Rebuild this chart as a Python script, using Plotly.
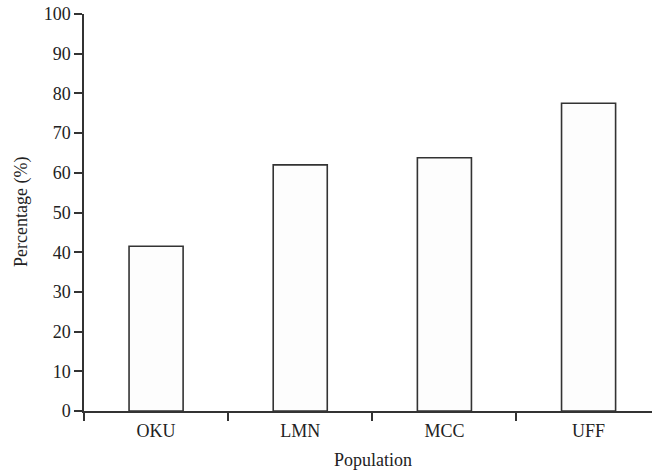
import plotly.graph_objects as go

categories = ["OKU", "LMN", "MCC", "UFF"]
values = [41.5, 62.0, 63.8, 77.5]
y_ticks = list(range(0, 101, 10))

FONT = "Liberation Serif, Times New Roman, serif"
AX = "#333333"
TXT = "#222222"
FS = 18

fig = go.Figure()
fig.add_trace(go.Bar(
    x=categories, y=values, width=0.375,
    marker=dict(color="#fdfdfd", line=dict(color=AX, width=1.6)),
    hoverinfo="skip",
))

fig.update_layout(
    width=652, height=472,
    margin=dict(l=84, r=0, t=14, b=61),
    paper_bgcolor="white", plot_bgcolor="white",
    font=dict(family=FONT, size=FS, color=TXT),
    showlegend=False,
    xaxis=dict(
        range=[-0.5, 3.44], showgrid=False, zeroline=False,
        showline=True, linecolor=AX, linewidth=1.5,
        ticks="outside", tickson="boundaries", ticklen=8, tickwidth=1.5, tickcolor=AX,
        ticklabelstandoff=3,
        tickfont=dict(family=FONT, size=FS, color=TXT),
    ),
    yaxis=dict(
        range=[0, 100], tickvals=y_ticks, showgrid=False, zeroline=False,
        showline=True, linecolor=AX, linewidth=1.5,
        ticks="outside", ticklen=8, tickwidth=1.5, tickcolor=AX,
        tickfont=dict(family=FONT, size=FS, color=TXT),
    ),
    annotations=[
        dict(
            text="Population", xref="paper", yref="paper",
            x=(373 - 84) / 568, y=0, yshift=-49, xanchor="center", yanchor="middle",
            showarrow=False, font=dict(family=FONT, size=FS, color=TXT),
        ),
        dict(
            text="Percentage (%)", xref="paper", yref="paper",
            x=0, xshift=-(84 - 21.5), y=0.5, xanchor="center", yanchor="middle",
            textangle=-90, showarrow=False, font=dict(family=FONT, size=FS, color=TXT),
        ),
    ],
)

fig.write_html(
    "out.html",
    config={"displayModeBar": False},
    post_script="document.body.style.margin='0';document.body.style.padding='0';",
)
